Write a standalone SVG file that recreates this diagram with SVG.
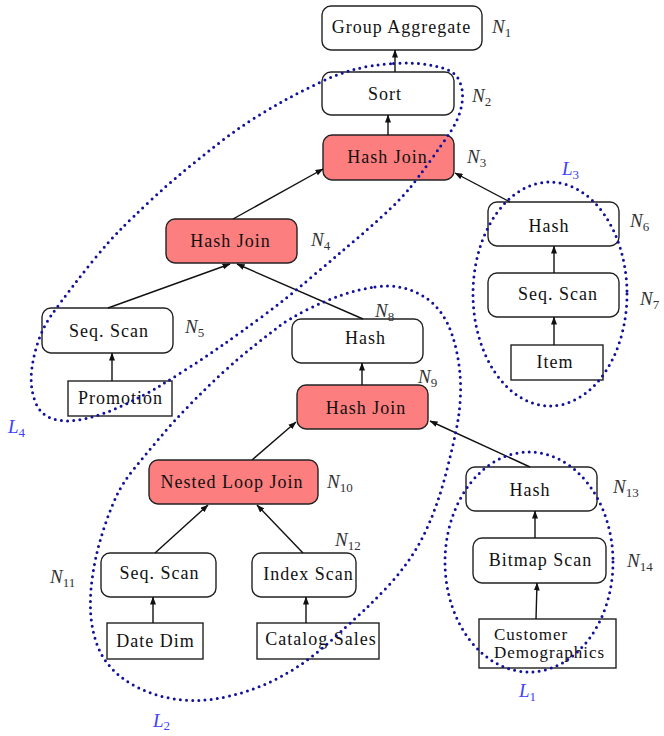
<svg xmlns="http://www.w3.org/2000/svg" width="664" height="736" viewBox="0 0 664 736">
<defs>
<marker id="ah" viewBox="0 0 8 6" refX="7.5" refY="3" markerWidth="8" markerHeight="6" markerUnits="userSpaceOnUse" orient="auto">
<path d="M0,0 L8,3 L0,6 Z" fill="#111"/>
</marker>
<style>
.box{fill:#fff;stroke:#222;stroke-width:1.4}
.red{fill:#fd7e7e;stroke:#222;stroke-width:1.4}
.tbl{fill:#fff;stroke:#222;stroke-width:1.4}
.t{font-family:"Liberation Serif","Times New Roman",serif;font-size:18px;letter-spacing:1px;fill:#111;text-anchor:middle}
.n{font-family:"Liberation Serif","Times New Roman",serif;font-size:19px;fill:#333}
.n .s{font-size:13px;font-style:normal}
.l{font-family:"Liberation Serif","Times New Roman",serif;font-size:19px;fill:#4040ff}
.e{stroke:#11119a;stroke-width:3;fill:none;stroke-dasharray:0 6.2;stroke-linecap:round}
.c line{stroke:#111;stroke-width:1.4;marker-end:url(#ah)}
</style>
</defs>
<rect width="664" height="736" fill="#fff"/>

<g id="N1"><rect class="box" x="322" y="6" width="160" height="44" rx="9"/><text class="t" x="401.5" y="33">Group Aggregate</text><text class="n" x="492" y="33"><tspan font-style="italic">N</tspan><tspan class="s" dy="4">1</tspan></text></g>
<g id="N2"><rect class="box" x="322" y="72" width="132" height="43" rx="9"/><text class="t" x="385" y="100">Sort</text><text class="n" x="472" y="102"><tspan font-style="italic">N</tspan><tspan class="s" dy="4">2</tspan></text></g>
<g id="N3"><rect class="red" x="323" y="135" width="131" height="45" rx="9"/><text class="t" x="387.5" y="163">Hash Join</text><text class="n" x="467" y="163"><tspan font-style="italic">N</tspan><tspan class="s" dy="4">3</tspan></text></g>
<g id="N4"><rect class="red" x="166" y="219" width="131" height="44" rx="9"/><text class="t" x="230.5" y="247">Hash Join</text><text class="n" x="311" y="246"><tspan font-style="italic">N</tspan><tspan class="s" dy="4">4</tspan></text></g>
<g id="N5"><rect class="box" x="42" y="308" width="131" height="45" rx="9"/><text class="t" x="109" y="337">Seq. Scan</text><text class="n" x="185" y="333"><tspan font-style="italic">N</tspan><tspan class="s" dy="4">5</tspan></text></g>
<g id="Promotion"><rect class="tbl" x="68" y="381" width="104" height="35"/><text class="t" x="120.5" y="404">Promotion</text></g>
<g id="N6"><rect class="box" x="488" y="202" width="131" height="44" rx="9"/><text class="t" x="549" y="232">Hash</text><text class="n" x="630" y="227"><tspan font-style="italic">N</tspan><tspan class="s" dy="4">6</tspan></text></g>
<g id="N7"><rect class="box" x="488" y="273" width="131" height="44" rx="9"/><text class="t" x="558" y="300">Seq. Scan</text><text class="n" x="640" y="305"><tspan font-style="italic">N</tspan><tspan class="s" dy="4">7</tspan></text></g>
<g id="Item"><rect class="tbl" x="511" y="345" width="92" height="35"/><text class="t" x="555" y="368">Item</text></g>
<g id="N8"><rect class="box" x="292" y="319" width="131" height="44" rx="9"/><text class="t" x="365.5" y="344">Hash</text><text class="n" x="375" y="317"><tspan font-style="italic">N</tspan><tspan class="s" dy="4">8</tspan></text></g>
<g id="N9"><rect class="red" x="297" y="385" width="131" height="44" rx="9"/><text class="t" x="366" y="414">Hash Join</text><text class="n" x="418" y="383"><tspan font-style="italic">N</tspan><tspan class="s" dy="4">9</tspan></text></g>
<g id="N10"><rect class="red" x="149" y="460" width="169" height="44" rx="9"/><text class="t" x="232" y="488">Nested Loop Join</text><text class="n" x="327" y="488"><tspan font-style="italic">N</tspan><tspan class="s" dy="4">10</tspan></text></g>
<g id="N11"><rect class="box" x="101" y="553" width="115" height="44" rx="9"/><text class="t" x="159.5" y="579">Seq. Scan</text><text class="n" x="50" y="583"><tspan font-style="italic">N</tspan><tspan class="s" dy="4">11</tspan></text></g>
<g id="N12"><rect class="box" x="252" y="553" width="104" height="44" rx="9"/><text class="t" x="308.5" y="580">Index Scan</text><text class="n" x="335" y="546"><tspan font-style="italic">N</tspan><tspan class="s" dy="4">12</tspan></text></g>
<g id="DateDim"><rect class="tbl" x="107" y="623" width="96" height="36"/><text class="t" x="155.5" y="647">Date Dim</text></g>
<g id="CatalogSales"><rect class="tbl" x="257" y="623" width="122" height="36"/><text class="t" x="321" y="645">Catalog Sales</text></g>
<g id="N13"><rect class="box" x="466" y="467" width="131" height="44" rx="9"/><text class="t" x="530" y="496">Hash</text><text class="n" x="613" y="493"><tspan font-style="italic">N</tspan><tspan class="s" dy="4">13</tspan></text></g>
<g id="N14"><rect class="box" x="473" y="538" width="133" height="45" rx="9"/><text class="t" x="540.5" y="566">Bitmap Scan</text><text class="n" x="627" y="567"><tspan font-style="italic">N</tspan><tspan class="s" dy="4">14</tspan></text></g>
<g id="CustomerDemographics"><rect class="tbl" x="479" y="619" width="137" height="49"/><text class="t" style="text-anchor:start;font-size:17px" x="494" y="640">Customer</text><text class="t" style="text-anchor:start;font-size:17px" x="494" y="658">Demographics</text></g>

<g id="connectors" class="c">
<line x1="395" y1="72" x2="395" y2="50"/>
<line x1="388" y1="135" x2="388" y2="115"/>
<line x1="233" y1="219" x2="323" y2="169"/>
<line x1="510" y1="202" x2="455" y2="173"/>
<line x1="108" y1="308" x2="230" y2="264"/>
<line x1="363" y1="319" x2="237" y2="264"/>
<line x1="112" y1="381" x2="112" y2="353"/>
<line x1="554" y1="345" x2="554" y2="317"/>
<line x1="554" y1="273" x2="554" y2="246"/>
<line x1="362" y1="385" x2="362" y2="363"/>
<line x1="252" y1="460" x2="296" y2="422"/>
<line x1="530" y1="467" x2="430" y2="421"/>
<line x1="155" y1="553" x2="208" y2="505"/>
<line x1="303" y1="553" x2="257" y2="505"/>
<line x1="153" y1="623" x2="153" y2="597"/>
<line x1="306" y1="623" x2="306" y2="597"/>
<line x1="536" y1="619" x2="537" y2="583"/>
<line x1="535" y1="538" x2="535" y2="511"/>
</g>

<g id="L4"><path class="e" d="M 393.5,63.5 Q 417,62 435,66 Q 453,70 457.5,77.5 Q 462,85 462.5,93.5 Q 463,102 460,112 Q 457,122 450,132.5 Q 443,143 430.5,160.5 Q 418,178 409,189 Q 400,200 382.5,216 Q 365,232 346.5,247.5 Q 328,263 307.5,280.5 Q 287,298 263.5,315.5 Q 240,333 223.5,344.5 Q 207,356 190,367 Q 173,378 158,387 Q 143,396 124,405 Q 105,414 86,418.5 Q 67,423 53.5,419 Q 40,415 35,401 Q 30,387 31.5,372 Q 33,357 38,342 Q 43,327 51.5,315 Q 60,303 71.5,288 Q 83,273 96.5,256.5 Q 110,240 121,229 Q 132,218 149.5,201.5 Q 167,185 183.5,171.5 Q 200,158 216.5,145 Q 233,132 250,121 Q 267,110 283.5,101 Q 300,92 317.5,83.5 Q 335,75 352.5,70 Q 370,65 393.5,63.5 Z"/><text class="l" x="8" y="433"><tspan font-style="italic">L</tspan><tspan font-size="13" dy="4">4</tspan></text></g>
<g id="L2"><path class="e" d="M 375,287 Q 390,285 401.5,287.5 Q 413,290 423,296 Q 433,302 440.5,312 Q 448,322 452.5,336 Q 457,350 459,365 Q 461,380 460.5,394 Q 460,408 458,420 Q 456,432 452.5,447 Q 449,462 445,477 Q 441,492 436,506 Q 431,520 424.5,533.5 Q 418,547 409,560 Q 400,573 389,585 Q 378,597 367.5,607 Q 357,617 335,637 Q 313,657 296.5,667.5 Q 280,678 263.5,685 Q 247,692 230,696 Q 213,700 198,700.5 Q 183,701 166.5,697.5 Q 150,694 135,686 Q 120,678 110,666.5 Q 100,655 95.5,640 Q 91,625 90.5,610 Q 90,595 92,580 Q 94,565 97,552.5 Q 100,540 105,525 Q 110,510 116.5,496 Q 123,482 135,467.5 Q 147,453 160,437.5 Q 173,422 190,404.5 Q 207,387 223.5,372 Q 240,357 252.5,347 Q 265,337 277.5,327.5 Q 290,318 308.5,309 Q 327,300 343.5,294.5 Q 360,289 375,287 Z"/><text class="l" x="153" y="727"><tspan font-style="italic">L</tspan><tspan font-size="13" dy="3">2</tspan></text></g>
<g id="L3"><ellipse class="e" cx="550" cy="294" rx="77" ry="112"/><text class="l" x="562" y="175"><tspan font-style="italic">L</tspan><tspan font-size="13" dy="4">3</tspan></text></g>
<g id="L1"><ellipse class="e" cx="529" cy="562" rx="84" ry="110"/><text class="l" x="519" y="697"><tspan font-style="italic">L</tspan><tspan font-size="13" dy="4">1</tspan></text></g>
</svg>
